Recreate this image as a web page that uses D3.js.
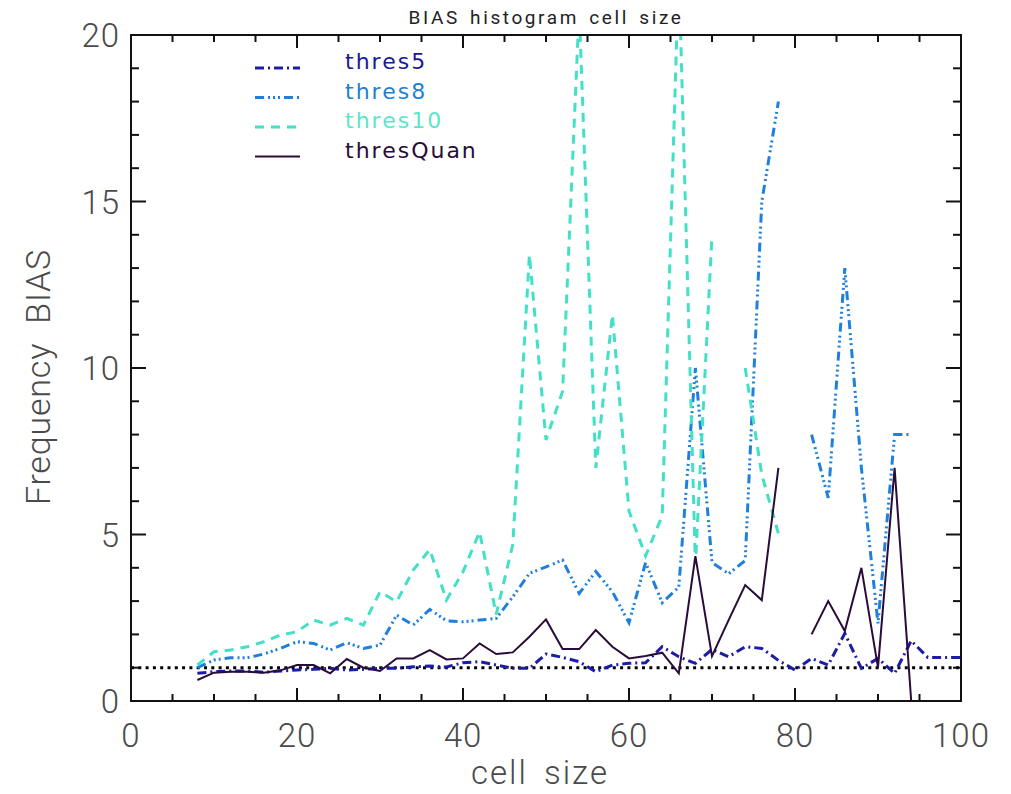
<!DOCTYPE html>
<html>
<head>
<meta charset="utf-8">
<script src="https://cdn.jsdelivr.net/npm/d3@7"></script>
<style>
  html, body { margin: 0; padding: 0; background: #fff; }
  svg { display: block; }
</style>
</head>
<body>
<svg id="chart" width="1011" height="794"></svg>
<script>
// Cell sizes (every 2 units); null marks a cell size with no value.
const cellSizes = [8,10,12,14,16,18,20,22,24,26,28,30,32,34,36,38,40,42,44,46,48,50,52,54,56,58,60,62,64,66,68,70,72,74,76,78,80,82,84,86,88,90,92,94,96,98,100];

const thres5 = [0.83,0.88,0.90,0.90,0.86,0.90,0.93,0.95,0.98,0.93,0.95,0.98,0.98,1.03,1.05,1.02,1.15,1.18,1.08,0.98,0.98,1.41,1.31,1.18,0.88,1.08,1.13,1.15,1.63,1.33,1.13,1.55,1.33,1.63,1.58,1.22,0.93,1.28,1.08,2.03,0.98,1.28,0.83,1.81,1.31,1.31,1.31];

const thres8 = [1.00,1.23,1.30,1.30,1.41,1.58,1.78,1.73,1.53,1.75,1.58,1.68,2.58,2.28,2.75,2.41,2.38,2.43,2.48,3.13,3.83,4.03,4.23,3.23,3.89,3.28,2.35,4.16,2.95,3.42,10.0,4.16,3.82,4.22,15.0,18.0,null,8.0,6.1,13.0,7.0,2.33,8.0,8.0,null,null,null];

const thres10 = [1.08,1.48,1.53,1.63,1.78,1.98,2.08,2.43,2.28,2.48,2.28,3.28,2.98,3.93,4.55,3.03,3.88,5.08,2.60,4.70,13.4,7.84,9.3,20.8,7.0,11.6,5.7,4.36,5.56,22.0,4.1,14.0,null,10.0,6.8,5.03,null,null,null,null,null,null,null,null,null,null,null];

const thresQuan = [0.63,0.85,0.88,0.88,0.85,0.92,1.08,1.08,0.83,1.26,1.00,0.90,1.28,1.28,1.53,1.25,1.28,1.73,1.41,1.46,1.93,2.45,1.56,1.56,2.13,1.63,1.28,1.35,1.45,0.83,4.35,1.35,2.43,3.48,3.03,7.0,null,2.0,3.0,2.1,4.0,1.0,7.0,0.0,null,null,null];

const seriesNames = ["thres5", "thres8", "thres10", "thresQuan"];
const seriesValues = [thres5, thres8, thres10, thresQuan];

const xTicksMajor = [0, 20, 40, 60, 80, 100];
const yTicksMajor = [0, 5, 10, 15, 20];
const referenceLevel = 1;

const titleText = "BIAS histogram cell size";
const xLabel = "cell size";
const yLabel = "Frequency BIAS";

// Drawing styles per series
const styles = {
  thres5:    { color: "#1c1ca6", text: "#1a1a96", width: 3,   dash: "9,4,2,4" },
  thres8:    { color: "#1e80dc", text: "#1f7fd6", width: 3,   dash: "9,4,2,3,2,3,2,4" },
  thres10:   { color: "#42e0c6", text: "#5ce6c8", width: 3,   dash: "9,7" },
  thresQuan: { color: "#2a0c3a", text: "#2a0c3a", width: 2,   dash: null }
};

const svg = d3.select("#chart");
const plot = { left: 131, right: 961, top: 35, bottom: 701 };

const x = d3.scaleLinear().domain([0, 100]).range([plot.left, plot.right]);
const y = d3.scaleLinear().domain([0, 20]).range([plot.bottom, plot.top]);

svg.append("defs").append("clipPath").attr("id", "plotClip")
  .append("rect")
  .attr("x", plot.left).attr("y", plot.top)
  .attr("width", plot.right - plot.left)
  .attr("height", plot.bottom - plot.top + 12);

const labelFont = "Roboto, 'Liberation Sans', sans-serif";

// Title
svg.append("text")
  .attr("x", (plot.left + plot.right) / 2)
  .attr("y", 24)
  .attr("text-anchor", "middle")
  .attr("font-family", labelFont)
  .attr("font-size", 19)
  .attr("letter-spacing", 2.6)
  .attr("word-spacing", 3)
  .attr("fill", "#222")
  .text(titleText);

// Ticks on all four sides, pointing inward
const tickG = svg.append("g").attr("stroke", "#111").attr("stroke-width", 2);
d3.range(0, 101, 5).forEach(v => {
  const len = xTicksMajor.includes(v) ? 13 : 7;
  const px = x(v);
  tickG.append("line").attr("x1", px).attr("x2", px).attr("y1", plot.bottom).attr("y2", plot.bottom - len);
  tickG.append("line").attr("x1", px).attr("x2", px).attr("y1", plot.top).attr("y2", plot.top + len);
});
d3.range(0, 21, 1).forEach(v => {
  const len = yTicksMajor.includes(v) ? 15 : 8;
  const py = y(v);
  tickG.append("line").attr("x1", plot.left).attr("x2", plot.left + len).attr("y1", py).attr("y2", py);
  tickG.append("line").attr("x1", plot.right).attr("x2", plot.right - len).attr("y1", py).attr("y2", py);
});

// Tick labels
svg.append("g").selectAll("text").data(xTicksMajor).join("text")
  .attr("x", d => x(d))
  .attr("y", 747)
  .attr("text-anchor", "middle")
  .attr("font-family", labelFont)
  .attr("font-weight", 300)
  .attr("font-size", 33)
  .attr("letter-spacing", 1)
  .attr("fill", "#4a4a4a")
  .text(d => d);

svg.append("g").selectAll("text").data(yTicksMajor).join("text")
  .attr("x", 120)
  .attr("y", d => y(d) + 12)
  .attr("text-anchor", "end")
  .attr("font-family", labelFont)
  .attr("font-weight", 300)
  .attr("font-size", 33)
  .attr("letter-spacing", 1)
  .attr("fill", "#4a4a4a")
  .text(d => d);

// Axis titles
svg.append("text")
  .attr("x", (plot.left + plot.right) / 2 - 6)
  .attr("y", 784)
  .attr("text-anchor", "middle")
  .attr("font-family", labelFont)
  .attr("font-weight", 300)
  .attr("font-size", 33)
  .attr("letter-spacing", 2)
  .attr("word-spacing", 6)
  .attr("fill", "#4a4a4a")
  .text(xLabel);

svg.append("text")
  .attr("transform", `translate(50,${(plot.top + plot.bottom) / 2 + 9}) rotate(-90)`)
  .attr("text-anchor", "middle")
  .attr("font-family", labelFont)
  .attr("font-weight", 300)
  .attr("font-size", 34)
  .attr("letter-spacing", 0.8)
  .attr("word-spacing", 10)
  .attr("fill", "#4a4a4a")
  .text(yLabel);

// Reference level line
svg.append("line")
  .attr("x1", x(0)).attr("x2", x(100))
  .attr("y1", y(referenceLevel)).attr("y2", y(referenceLevel))
  .attr("stroke", "#000")
  .attr("stroke-width", 3)
  .attr("stroke-dasharray", "3,4.3");

// Series lines
const line = d3.line()
  .defined(d => d.v !== null)
  .x(d => x(d.c))
  .y(d => y(d.v));

const linesG = svg.append("g").attr("clip-path", "url(#plotClip)");
seriesNames.forEach((name, i) => {
  const data = cellSizes.map((c, j) => ({ c, v: seriesValues[i][j] }));
  const st = styles[name];
  linesG.append("path")
    .datum(data)
    .attr("fill", "none")
    .attr("stroke", st.color)
    .attr("stroke-width", st.width)
    .attr("stroke-dasharray", st.dash)
    .attr("stroke-linejoin", "miter")
    .attr("d", line);
});

// Frame
svg.append("rect")
  .attr("x", plot.left).attr("y", plot.top)
  .attr("width", plot.right - plot.left)
  .attr("height", plot.bottom - plot.top)
  .attr("fill", "none")
  .attr("stroke", "#111")
  .attr("stroke-width", 2);

// Legend
const legend = svg.append("g");
seriesNames.forEach((name, i) => {
  const st = styles[name];
  const ly = 68 + i * 29.5;
  legend.append("line")
    .attr("x1", 255).attr("x2", 300)
    .attr("y1", ly).attr("y2", ly)
    .attr("stroke", st.color)
    .attr("stroke-width", st.width)
    .attr("stroke-dasharray", st.dash);
  legend.append("text")
    .attr("x", 345)
    .attr("y", ly + 1)
    .attr("font-family", "'DejaVu Sans', sans-serif")
    .attr("font-size", 22)
    .attr("letter-spacing", 2)
    .attr("fill", st.text)
    .text(name);
});
</script>
</body>
</html>
